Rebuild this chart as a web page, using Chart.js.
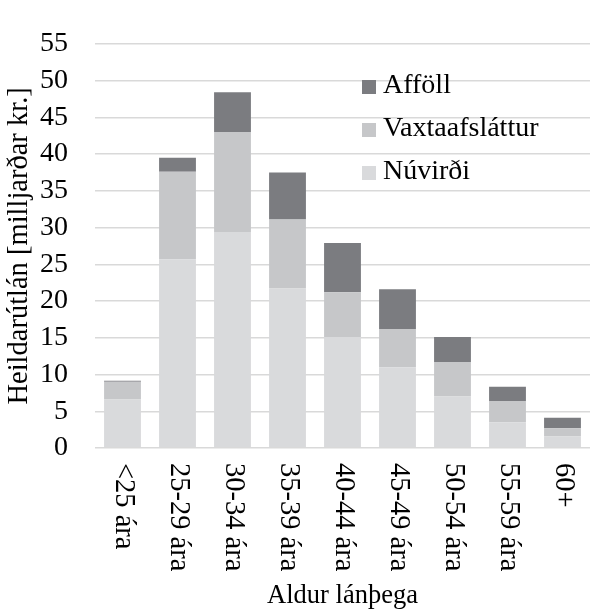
<!DOCTYPE html>
<html>
<head>
<meta charset="utf-8">
<script src="https://cdn.jsdelivr.net/npm/chart.js@4"></script>
<style>
  html, body { margin: 0; padding: 0; background: #fff; }
  #wrap { width: 596px; height: 612px; position: relative; }
</style>
</head>
<body>
<div id="wrap"><canvas id="grafica"></canvas></div>
<script>
const aldursbil = ['<25 ára', '25-29 ára', '30-34 ára', '35-39 ára', '40-44 ára', '45-49 ára', '50-54 ára', '55-59 ára', '60+'];
const nuvirdi = [6.6, 25.7, 29.4, 21.7, 15.1, 11.0, 7.0, 3.5, 1.55];
const vaxtaafslattur = [2.4, 11.9, 13.6, 9.4, 6.1, 5.2, 4.7, 2.9, 1.15];
const affoll = [0.15, 1.9, 5.4, 6.4, 6.7, 5.4, 3.4, 1.95, 1.4];
const yTicks = [0, 5, 10, 15, 20, 25, 30, 35, 40, 45, 50, 55];

const letur = '"Liberation Serif", "Times New Roman", serif';

// x-merkingar lesnar ofan frá og niður, eins og í fyrirmyndinni
const xMerkingar = {
  id: 'xMerkingar',
  afterDraw(chart) {
    const { ctx, scales: { x } } = chart;
    ctx.save();
    ctx.font = '28.5px ' + letur;
    ctx.fillStyle = '#000';
    ctx.textAlign = 'left';
    ctx.textBaseline = 'middle';
    aldursbil.forEach((texti, i) => {
      ctx.save();
      ctx.translate(x.getPixelForTick(i) + 1, x.top + 15);
      ctx.rotate(Math.PI / 2);
      ctx.fillText(texti, 0, 0);
      ctx.restore();
    });
    ctx.restore();
  }
};

// skýringar ofan á teiknisvæðinu, í öfugri röð
const skyringar = {
  id: 'skyringar',
  afterDraw(chart) {
    const { ctx } = chart;
    const ds = chart.data.datasets.slice().reverse();
    ctx.save();
    ctx.font = '28px ' + letur;
    ctx.textAlign = 'left';
    ctx.textBaseline = 'middle';
    ds.forEach((d, i) => {
      const y = 87 + i * 43;
      ctx.fillStyle = d.backgroundColor;
      ctx.fillRect(362, y - 7, 14, 14);
      ctx.fillStyle = '#000';
      ctx.fillText(d.label, 383, y - 1);
    });
    ctx.restore();
  }
};

new Chart(document.getElementById('grafica'), {
  type: 'bar',
  data: {
    labels: aldursbil,
    datasets: [
      { label: 'Núvirði', data: nuvirdi, backgroundColor: '#d9dadc' },
      { label: 'Vaxtaafsláttur', data: vaxtaafslattur, backgroundColor: '#c6c7c9' },
      { label: 'Afföll', data: affoll, backgroundColor: '#7b7c80' }
    ]
  },
  options: {
    responsive: true,
    maintainAspectRatio: false,
    animation: false,
    layout: { padding: { top: 22, right: 6, left: 0, bottom: 0 } },
    datasets: { bar: { categoryPercentage: 1, barPercentage: 0.67 } },
    plugins: {
      legend: { display: false },
      tooltip: { enabled: false }
    },
    scales: {
      x: {
        stacked: true,
        grid: { display: false },
        border: { display: false },
        ticks: { display: false },
        afterFit: (s) => { s.height = 164; },
        title: {
          display: true,
          text: 'Aldur lánþega',
          color: '#000',
          font: { family: letur, size: 26.5 },
          padding: { top: 0, bottom: 0 }
        }
      },
      y: {
        stacked: true,
        min: 0,
        max: 55,
        afterBuildTicks: (s) => { s.ticks = yTicks.map(v => ({ value: v })); },
        afterFit: (s) => { s.width = 95; },
        grid: { color: '#d9d9d9', lineWidth: 1.5, drawTicks: false },
        border: { display: false },
        ticks: {
          padding: 27,
          color: '#000',
          font: { family: letur, size: 28 }
        },
        title: {
          display: true,
          text: 'Heildarútlán [milljarðar kr.]',
          color: '#000',
          font: { family: letur, size: 28.5 },
          padding: { top: 2, bottom: 4 }
        }
      }
    }
  },
  plugins: [xMerkingar, skyringar]
});
</script>
</body>
</html>
